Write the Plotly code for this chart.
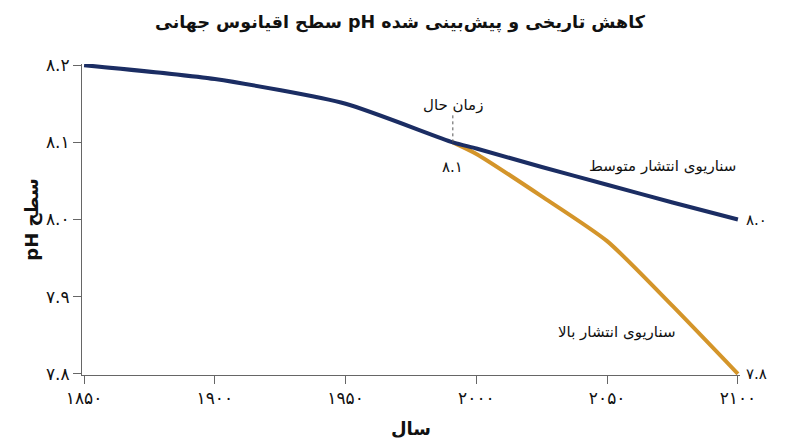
import plotly.graph_objects as go

# Data
years_hist = [1850, 1900, 1950, 1991]
ph_hist = [8.20, 8.182, 8.15, 8.10]

years_mid = [1991, 2000, 2025, 2050, 2075, 2100]
ph_mid = [8.10, 8.092, 8.068, 8.045, 8.022, 8.00]

years_high = [1991, 2000, 2025, 2050, 2075, 2100]
ph_high = [8.10, 8.085, 8.03, 7.972, 7.888, 7.80]

x_ticks = [1850, 1900, 1950, 2000, 2050, 2100]
x_tick_labels = ["۱۸۵۰", "۱۹۰۰", "۱۹۵۰", "۲۰۰۰", "۲۰۵۰", "۲۱۰۰"]
y_ticks = [7.8, 7.9, 8.0, 8.1, 8.2]
y_tick_labels = ["۷.۸", "۷.۹", "۸.۰", "۸.۱", "۸.۲"]

present_year = 1991
present_ph = 8.10

navy = "#1b2d63"
gold = "#d4952a"
font = "DejaVu Sans"


def rtl(s):
    # force right-to-left base direction for mixed Persian / Latin text
    return "\u202B" + s + "\u202C"


fig = go.Figure()

# high scenario first so the navy line sits on top at the junction
fig.add_trace(go.Scatter(
    x=years_high, y=ph_high, mode="lines",
    line=dict(color=gold, width=4, shape="spline", smoothing=0.6),
    hoverinfo="skip"
))
fig.add_trace(go.Scatter(
    x=years_hist + years_mid[1:], y=ph_hist + ph_mid[1:], mode="lines",
    line=dict(color=navy, width=4, shape="spline", smoothing=0.6),
    hoverinfo="skip"
))

# present-time marker
fig.add_shape(type="line", x0=present_year, x1=present_year, y0=present_ph, y1=8.137,
              line=dict(color="#555555", width=1, dash="dot"))

annotations = [
    dict(x=present_year, y=8.148, text="زمان حال"),
    dict(x=present_year, y=8.068, text="۸.۱"),
    dict(x=2100, y=8.069, text="سناریوی انتشار متوسط", xanchor="right"),
    dict(x=2053.5, y=7.854, text="سناریوی انتشار بالا"),
    dict(x=2100, y=ph_mid[-1], text="۸.۰", xanchor="left", xshift=6),
    dict(x=2100, y=ph_high[-1], text="۷.۸", xanchor="left", xshift=6),
]
for a in annotations:
    fig.add_annotation(showarrow=False, font=dict(family=font, color="#111111", size=15), **a)

fig.update_layout(
    width=800, height=447,
    margin=dict(l=82, r=60, t=64, b=72),
    plot_bgcolor="white", paper_bgcolor="white",
    showlegend=False,
    font=dict(family=font, color="#111111"),
    title=dict(text="<b>" + rtl("کاهش تاریخی و پیش‌بینی شده pH سطح اقیانوس جهانی") + "</b>",
               x=0.5, xanchor="center", y=0.95, yanchor="middle",
               font=dict(size=17.5, family=font)),
)
fig.update_xaxes(
    range=[1849.2, 2100.8], tickvals=x_ticks, ticktext=x_tick_labels,
    showgrid=False, zeroline=False, showline=True, linecolor="#666666", linewidth=1,
    ticks="outside", ticklen=8, tickcolor="#666666", automargin=False,
    tickfont=dict(size=17, family=font),
    title=dict(text="<b>سال</b>", font=dict(size=18, family=font), standoff=14),
)
fig.update_yaxes(
    range=[7.7985, 8.2015], tickvals=y_ticks, ticktext=y_tick_labels,
    showgrid=False, zeroline=False, showline=True, linecolor="#666666", linewidth=1,
    ticks="outside", ticklen=8, tickcolor="#666666", automargin=False,
    tickfont=dict(size=17, family=font),
    title=dict(text="<b>" + rtl("سطح pH") + "</b>", font=dict(size=18, family=font), standoff=2),
)

# drop the default page margin so the 800x447 figure fills the window exactly
fig.write_html("out.html", config={"displayModeBar": False},
               post_script="document.body.style.margin='0';")
